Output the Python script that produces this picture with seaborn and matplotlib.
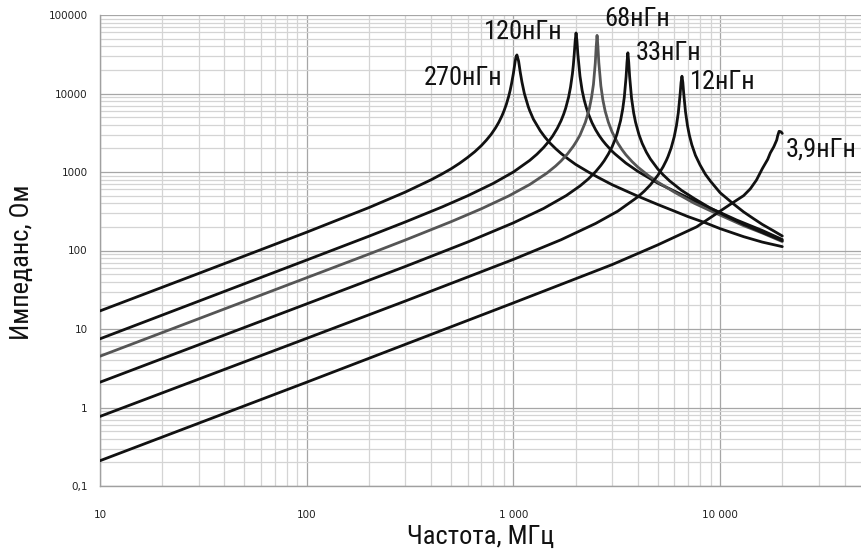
import numpy as np
import pandas as pd
import matplotlib
matplotlib.use("Agg")
import matplotlib.pyplot as plt
import seaborn as sns
from matplotlib import font_manager as fm
from matplotlib.ticker import FixedLocator, FixedFormatter, LogLocator, NullFormatter

# ---- data ----
labels = ["270нГн", "120нГн", "68нГн", "33нГн", "12нГн", "3,9нГн"]

f_270 = [10, 30, 100, 200, 300, 400, 450, 500, 550, 600, 650, 700, 740, 780, 820, 850, 880, 900,
         925, 950, 965, 980, 1000, 1020, 1030, 1040, 1060, 1080, 1100, 1130, 1180, 1200, 1250,
         1350, 1420, 1500, 1600, 1700, 1850, 2000, 2300, 2600, 3000, 3500, 4000, 5000, 6000,
         7000, 8500, 10000, 13000, 16000, 20000]
z_270 = [17, 51, 171, 352, 555, 796, 939, 1100, 1295, 1530, 1810, 2170, 2543, 3010, 3650, 4300,
         5180, 5970, 7300, 9300, 11000, 13400, 18000, 25700, 29400, 31000, 25800, 18500, 14000,
         10000, 6800, 6030, 4700, 3340, 2790, 2350, 1986, 1725, 1450, 1250, 1003, 840, 690, 575,
         492, 385, 318, 270, 225, 190, 150, 128, 112]

f_120 = [10, 100, 200, 300, 450, 600, 800, 1000, 1200, 1300, 1400, 1480, 1550, 1630, 1700, 1750,
         1790, 1850, 1890, 1930, 1950, 1970, 1990, 2010, 2030, 2050, 2100, 2150, 2200, 2250, 2300,
         2400, 2500, 2600, 2700, 2800, 3000, 3100, 3500, 4000, 5000, 6000, 8000, 10000, 12000,
         16000, 20000]
z_120 = [7.5, 75.6, 152, 231, 357, 497, 717, 1000, 1406, 1685, 2050, 2438, 2880, 3590, 4490, 5430,
         6480, 9000, 12050, 17800, 23000, 31800, 46500, 59000, 46700, 32000, 16600, 11000, 8300,
         6700, 5600, 4250, 3446, 2910, 2531, 2250, 1843, 1700, 1300, 1019, 720, 572, 395, 305, 245,
         180, 138]

f_68 = [10, 100, 200, 300, 500, 700, 950, 1200, 1450, 1600, 1700, 1830, 1950, 2020, 2100, 2230,
        2330, 2390, 2440, 2490, 2515, 2540, 2565, 2590, 2650, 2710, 2780, 2880, 3000, 3200, 3350,
        3500, 3750, 4000, 4500, 5000, 6000, 7500, 9000, 13000, 16000, 20000]
z_68 = [4.5, 45, 90, 136, 233, 340, 496, 693, 965, 1190, 1382, 1707, 2130, 2466, 2950, 4300,
        6400, 9000, 13100, 24400, 39000, 55000, 39100, 24800, 12500, 8280, 5960, 4310, 3250, 2330,
        1935, 1660, 1358, 1155, 900, 743, 555, 400, 320, 207, 167, 130]

f_33 = [10, 100, 300, 600, 1000, 1400, 1800, 2100, 2300, 2500, 2650, 2750, 2880, 3000, 3090, 3170,
        3300, 3380, 3440, 3510, 3545, 3580, 3615, 3650, 3730, 3820, 3900, 4050, 4200, 4400, 4600,
        5000, 5300, 5700, 6500, 7500, 9000, 11000, 13000, 16000, 20000]
z_33 = [2.1, 20.9, 62.6, 128, 225, 343, 500, 664, 812, 1010, 1216, 1390, 1693, 2080, 2513, 3040,
        4510, 6330, 8950, 16300, 24900, 33000, 24900, 16600, 8700, 5630, 4300, 3000, 2310, 1787,
        1465, 1090, 922, 770, 585, 459, 345, 265, 215, 170, 133]

f_12 = [10, 100, 300, 1000, 1700, 2500, 3200, 4000, 4300, 4600, 5000, 5300, 5500, 5600, 5800, 6000,
        6150, 6280, 6410, 6475, 6540, 6605, 6670, 6800, 6950, 7100, 7300, 7600, 8000, 8500, 9000,
        10000, 11500, 13000, 14500, 16000, 18000, 20000]
z_12 = [0.77, 7.6, 22.7, 77, 137, 221, 317, 482, 571, 686, 907, 1164, 1412, 1575, 2030, 2815,
        3900, 5700, 9900, 13800, 16600, 13840, 10000, 5900, 3940, 2950, 2220, 1630, 1230, 930, 760,
        545, 400, 310, 255, 215, 180, 153]

f_39 = [10, 100, 1000, 3000, 5000, 7700, 11000, 13000, 14000, 15000, 16000, 17000, 17500, 18200,
        18800, 19000, 19300, 19700, 20000]
z_39 = [0.21, 2.1, 21.5, 66, 118, 200, 375, 500, 610, 790, 1100, 1450, 1750, 2100, 2560, 2900,
        3300, 3250, 3100]

freqs = [f_270, f_120, f_68, f_33, f_12, f_39]
imps = [z_270, z_120, z_68, z_33, z_12, z_39]
colors = ["#111111", "#111111", "#555555", "#111111", "#111111", "#111111"]

x_ticks = [10, 100, 1000, 10000]
x_tick_labels = ["10", "100", "1 000", "10 000"]
y_ticks = [0.1, 1, 10, 100, 1000, 10000, 100000]
y_tick_labels = ["0,1", "1", "10", "100", "1000", "10000", "100000"]

# label offsets (pixels) relative to each curve's peak and alignment
label_offsets = [(-15, -23), (-13, 1), (7, 16), (8, 0), (8, -6), (7, -18)]
label_ha = ["right", "right", "left", "left", "left", "left"]

# ---- style ----
sns.set_style("white")
plt.rcParams["font.family"] = ["DejaVu Sans"]

# find a narrow / condensed font for the big texts
narrow_prop = None
big_size = 17
prefs = [("liberationsansnarrow-regular", 20), ("robotocondensed-regular", 19),
         ("opensans_condensed-regular", 19), ("opensanscondensed-regular", 19),
         ("dejavusanscondensed.ttf", 17.5)]
paths = [f.fname for f in fm.fontManager.ttflist]
for key, size in prefs:
    hit = [p for p in paths if key in p.lower().replace(" ", "")]
    if hit:
        narrow_prop = fm.FontProperties(fname=hit[0])
        big_size = size
        break
if narrow_prop is None:
    narrow_prop = fm.FontProperties(family="DejaVu Sans", stretch="condensed")
narrow_prop.set_size(big_size)

W, H = 862, 554
fig = plt.figure(figsize=(W / 100, H / 100), dpi=100)
ax = fig.add_axes([100 / W, 1 - 486 / H, 1 - 100 / W, (486 - 15) / H])
ax.set_xscale("log")
ax.set_yscale("log")
ax.set_xlim(10, 48600)
ax.set_ylim(0.1, 100000)

for f, z, c in zip(freqs, imps, colors):
    df = pd.DataFrame({"f": f, "z": z})
    sns.lineplot(data=df, x="f", y="z", ax=ax, color=c, linewidth=2.0,
                 sort=False, estimator=None, zorder=3)

for f, z, lab, (dx, dy), ha in zip(freqs, imps, labels, label_offsets, label_ha):
    i = int(np.argmax(z))
    ax.annotate(lab, xy=(f[i], z[i]), xytext=(dx, dy), textcoords="offset pixels",
                ha=ha, va="center", fontproperties=narrow_prop, color="#111111")

# grid
ax.set_axisbelow(True)
ax.xaxis.set_minor_locator(LogLocator(base=10, subs=np.arange(2, 10), numticks=50))
ax.yaxis.set_minor_locator(LogLocator(base=10, subs=np.arange(2, 10), numticks=50))
ax.xaxis.set_minor_formatter(NullFormatter())
ax.yaxis.set_minor_formatter(NullFormatter())
ax.grid(which="minor", color="#d4d4d4", linewidth=0.9)
ax.grid(which="major", color="#a6a6a6", linewidth=0.9)

ax.xaxis.set_major_locator(FixedLocator(x_ticks))
ax.xaxis.set_major_formatter(FixedFormatter(x_tick_labels))
ax.yaxis.set_major_locator(FixedLocator(y_ticks))
ax.yaxis.set_major_formatter(FixedFormatter(y_tick_labels))

for s in ["top", "right"]:
    ax.spines[s].set_visible(False)
for s in ["left", "bottom"]:
    ax.spines[s].set_color("#a0a0a0")
    ax.spines[s].set_linewidth(1.0)

ax.tick_params(axis="y", which="major", direction="out", length=3, width=0.9,
               color="#a0a0a0", labelsize=7.5, pad=6, labelcolor="#222222")
ax.tick_params(axis="x", which="major", direction="out", length=4, width=0.9,
               color="#a0a0a0", labelsize=7.5, pad=13, labelcolor="#222222")
ax.tick_params(which="minor", length=0)

ax.set_xlabel("Частота, МГц", fontproperties=narrow_prop, color="#111111")
ax.set_ylabel("Импеданс, Ом", fontproperties=narrow_prop, color="#111111")
ax.xaxis.set_label_coords(0.5, (486 - 537) / 471)
ax.xaxis.label.set_va("center")
ax.yaxis.set_label_coords((22 - 100) / 762, (486 - 262) / 471)
ax.yaxis.label.set_va("center")

fig.savefig("out.png", dpi=100)
